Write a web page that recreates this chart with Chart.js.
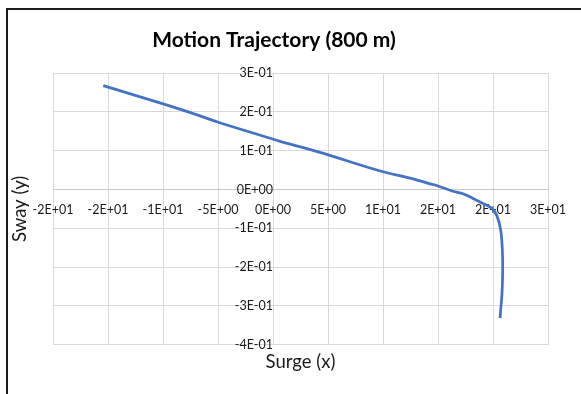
<!DOCTYPE html>
<html>
<head>
<meta charset="utf-8">
<script src="https://cdn.jsdelivr.net/npm/chart.js@4/dist/chart.umd.min.js"></script>
<style>
  html, body { margin: 0; padding: 0; background: #fff; overflow: hidden; }
  #wrap { position: relative; width: 581px; height: 394px; }
  #frame { position: absolute; left: 6px; top: 8px; width: 700px; height: 500px;
           border-top: 2px solid #1a1a1a; border-left: 2px solid #1a1a1a; pointer-events: none; }
  canvas { position: absolute; left: 0; top: 0; }
</style>
</head>
<body>
<div id="wrap">
  <canvas id="c" width="581" height="394"></canvas>
  <div id="frame"></div>
</div>
<script>
const chartTitle = "Motion Trajectory (800 m)";
const xAxisTitle = "Surge (x)";
const yAxisTitle = "Sway (y)";
const surgeX = [-15.43, -9.91, -6.64, -4.91, -0.03, 0.64, 4.27, 9.6, 12.73, 14.27, 14.88, 16.36, 17.27, 18.18, 19.09, 19.88, 20.34, 20.7, 20.85, 20.88, 20.82, 20.7, 20.64];
const swayY  = [0.2674, 0.2197, 0.1897, 0.1726, 0.130, 0.1238, 0.0956, 0.049, 0.0274, 0.0146, 0.0103, -0.0044, -0.011, -0.023, -0.036, -0.0487, -0.0667, -0.105, -0.156, -0.208, -0.267, -0.310, -0.3315];
const xTicks = [-20, -15, -10, -5, 0, 5, 10, 15, 20, 25];
const yTicks = [-0.4, -0.3, -0.2, -0.1, 0, 0.1, 0.2, 0.3];

function sci(v) {
  if (Math.abs(v) < 1e-9) return "0E+00";
  const s = Number(v).toExponential(0);
  const m = s.match(/^(-?\d)e([+-])(\d+)$/);
  if (!m) return s;
  return m[1] + "E" + m[2] + (m[3].length < 2 ? "0" + m[3] : m[3]);
}

const points = surgeX.map((x, i) => ({ x: x, y: swayY[i] }));
const FONT = "Lato, 'Open Sans', sans-serif";

new Chart(document.getElementById('c'), {
  type: 'scatter',
  data: {
    datasets: [{
      data: points,
      showLine: true,
      borderColor: '#4472C4',
      backgroundColor: '#4472C4',
      borderWidth: 2.75,
      pointRadius: 0,
      tension: 0.35,
      xAxisID: 'x',
      yAxisID: 'y'
    }]
  },
  options: {
    responsive: false,
    animation: false,
    devicePixelRatio: 1,
    layout: { padding: { left: 0, right: 33, top: 0, bottom: 0 } },
    plugins: {
      legend: { display: false },
      tooltip: { enabled: false },
      title: {
        display: true,
        text: chartTitle,
        color: '#000',
        font: { family: FONT, size: 21, weight: 'bold', lineHeight: 1.2 },
        padding: { top: 27.5, bottom: 20.3 }
      }
    },
    scales: {
      x: {
        type: 'linear',
        position: { y: 0 },
        min: -20, max: 25,
        afterBuildTicks: (s) => { s.ticks = xTicks.map(v => ({ value: v })); },
        ticks: {
          callback: (v) => sci(v),
          autoSkip: false, maxRotation: 0, minRotation: 0,
          padding: 13,
          color: '#1a1a1a',
          font: { family: FONT, size: 12.5 }
        },
        grid: { color: '#d9d9d9', lineWidth: 1, drawTicks: false },
        border: { display: true, color: '#c8c8c8', width: 1 }
      },
      y: {
        type: 'linear',
        position: { x: 0 },
        min: -0.4, max: 0.3,
        afterBuildTicks: (s) => { s.ticks = yTicks.map(v => ({ value: v })); },
        ticks: {
          callback: (v) => sci(v),
          autoSkip: false,
          padding: 15,
          color: '#1a1a1a',
          font: { family: FONT, size: 12.5 }
        },
        grid: { color: '#d9d9d9', lineWidth: 1, drawTicks: false },
        border: { display: false }
      },
      xt: {
        type: 'linear',
        position: 'bottom',
        min: 0, max: 1,
        ticks: { display: false },
        grid: { display: false, drawTicks: false },
        border: { display: false },
        title: {
          display: true, text: xAxisTitle, color: '#1a1a1a',
          font: { family: FONT, size: 18.5, lineHeight: 1.2 },
          padding: { top: 6, bottom: 21 }
        }
      },
      yt: {
        type: 'linear',
        position: 'left',
        min: 0, max: 1,
        ticks: { display: false },
        grid: { display: false, drawTicks: false },
        border: { display: false },
        title: {
          display: true, text: yAxisTitle, color: '#1a1a1a',
          font: { family: FONT, size: 18.5, lineHeight: 1.2 },
          padding: { top: 9, bottom: 21.8 }
        }
      }
    }
  }
});
</script>
</body>
</html>
